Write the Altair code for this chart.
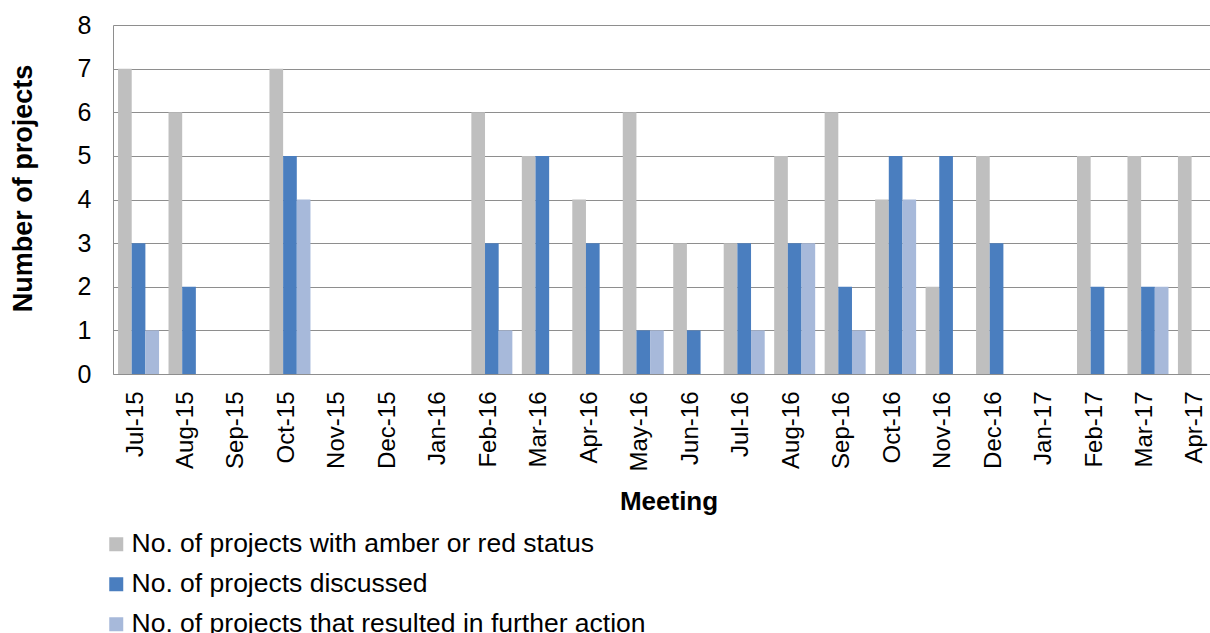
import altair as alt
import pandas as pd

# Monthly meeting data
months = ["Jul-15", "Aug-15", "Sep-15", "Oct-15", "Nov-15", "Dec-15", "Jan-16",
          "Feb-16", "Mar-16", "Apr-16", "May-16", "Jun-16", "Jul-16", "Aug-16",
          "Sep-16", "Oct-16", "Nov-16", "Dec-16", "Jan-17", "Feb-17", "Mar-17",
          "Apr-17"]
amber_red = [7, 6, 0, 7, 0, 0, 0, 6, 5, 4, 6, 3, 3, 5, 6, 4, 2, 5, 0, 5, 5, 5]
discussed = [3, 2, 0, 5, 0, 0, 0, 3, 5, 3, 1, 1, 3, 3, 2, 5, 5, 3, 0, 2, 2, 0]
further_action = [1, 0, 0, 4, 0, 0, 0, 1, 0, 0, 1, 0, 1, 3, 1, 4, 0, 0, 0, 0, 2, 0]

series = ["No. of projects with amber or red status",
          "No. of projects discussed",
          "No. of projects that resulted in further action"]
colors = ["#BFBFBF", "#4A7EBF", "#A7B9DA"]

rows = []
for name, vals in zip(series, [amber_red, discussed, further_action]):
    for m, v in zip(months, vals):
        rows.append({"Meeting": m, "Series": name, "Projects": v})
df = pd.DataFrame(rows)

FONT = "Liberation Sans"
GREY_LINE = "#8E8E8E"

chart = alt.Chart(df).mark_bar().encode(
    x=alt.X("Meeting:N", sort=months, title="Meeting",
            scale=alt.Scale(range=[0, 1111], paddingInner=0.1875, paddingOuter=0.1),
            axis=alt.Axis(labelAngle=-90, ticks=False, domainColor=GREY_LINE,
                          labelFontSize=24, labelPadding=17, labelOffset=-3,
                          labelColor="black", titleFontSize=26,
                          titleFontWeight="bold", titleColor="black",
                          titleY=127, titleBaseline="middle")),
    xOffset=alt.XOffset("Series:N", sort=series,
                        scale=alt.Scale(paddingInner=0, paddingOuter=0)),
    y=alt.Y("Projects:Q", title="Number of projects",
            scale=alt.Scale(domain=[0, 8], nice=False),
            axis=alt.Axis(values=list(range(0, 9)), ticks=False,
                          domainColor=GREY_LINE, gridColor=GREY_LINE,
                          labelFontSize=25, labelPadding=22, labelColor="black",
                          titleFontSize=27, titleFontWeight="bold",
                          titleColor="black", titleX=-90, titleY=163,
                          titleBaseline="middle")),
    color=alt.Color("Series:N", sort=series,
                    scale=alt.Scale(domain=series, range=colors),
                    legend=alt.Legend(orient="none", legendX=-10, legendY=506,
                                      title=None, direction="vertical",
                                      symbolType="square", symbolSize=196,
                                      symbolStrokeWidth=0, symbolOpacity=1,
                                      labelFontSize=26.5, labelOffset=2,
                                      rowPadding=13, labelLimit=2000,
                                      padding=0, labelColor="black")),
).properties(
    width=1097,
    height=349,
    autosize=alt.AutoSizeParams(type="none"),
    padding={"left": 113, "top": 25, "right": 0, "bottom": 259},
).configure_view(
    stroke=None
).configure_axis(
    labelFont=FONT, titleFont=FONT
).configure_legend(
    labelFont=FONT
)

chart.save("out.html", embed_options={"renderer": "svg", "actions": False})
